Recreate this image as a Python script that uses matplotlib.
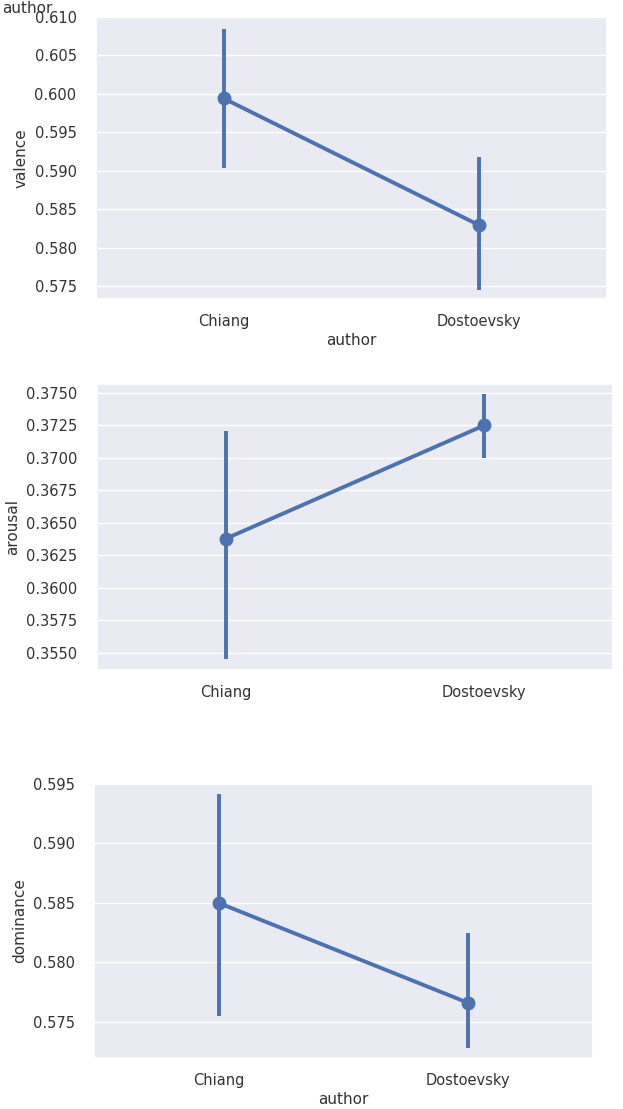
import matplotlib
matplotlib.use("Agg")
import matplotlib.pyplot as plt
import seaborn as sns

sns.set_theme(style="darkgrid")
plt.rcParams['font.family'] = ['DejaVu Sans']

authors = ["Chiang", "Dostoevsky"]

valence_mean = [0.5994, 0.5829]
valence_lo = [0.5903, 0.5745]
valence_hi = [0.6084, 0.5918]

arousal_mean = [0.3638, 0.3725]
arousal_lo = [0.3545, 0.3700]
arousal_hi = [0.3721, 0.3749]

dominance_mean = [0.5850, 0.5766]
dominance_lo = [0.5755, 0.5728]
dominance_hi = [0.5942, 0.5825]

valence_ticks = [0.575, 0.580, 0.585, 0.590, 0.595, 0.600, 0.605, 0.610]
arousal_ticks = [0.3550, 0.3575, 0.3600, 0.3625, 0.3650, 0.3675, 0.3700, 0.3725, 0.3750]
dominance_ticks = [0.575, 0.580, 0.585, 0.590, 0.595]

W, H = 623, 1109
fig = plt.figure(figsize=(W / 100, H / 100), dpi=100)

def add_ax(l, t, r, b):
    return fig.add_axes([l / W, 1 - b / H, (r - l) / W, (b - t) / H])

color = "#4c72b0"

def draw(ax, mean, lo, hi, ticks, fmt, ylim, ylabel, xlabel):
    ax.plot(authors, mean, color=color, lw=2.8, marker="o", ms=9, zorder=3)
    ax.vlines(authors, lo, hi, color=color, lw=2.8, zorder=3)
    ax.set_xlim(-0.5, 1.5)
    ax.set_ylim(*ylim)
    ax.set_yticks(ticks)
    ax.set_yticklabels([fmt.format(t) for t in ticks])
    ax.tick_params(axis="both", labelsize=10.5, colors="#333333")
    ax.tick_params(axis="y", pad=8)
    ax.tick_params(axis="x", pad=5)
    ax.set_ylabel(ylabel, fontsize=11, color="#333333")
    ax.set_xlabel(xlabel, fontsize=11, color="#333333", labelpad=3)
    ax.grid(axis="x", visible=False)

ax1 = add_ax(96, 17, 607, 299)
draw(ax1, valence_mean, valence_lo, valence_hi, valence_ticks, "{:.3f}",
     (0.5733, 0.6100), "valence", "author")

ax2 = add_ax(97, 384, 613, 670)
draw(ax2, arousal_mean, arousal_lo, arousal_hi, arousal_ticks, "{:.4f}",
     (0.35369, 0.37569), "arousal", "")

ax3 = add_ax(94, 784, 593, 1058)
draw(ax3, dominance_mean, dominance_lo, dominance_hi, dominance_ticks, "{:.3f}",
     (0.57197, 0.5950), "dominance", "author")

fig.text(2 / W, 1 - 1 / H, "author", fontsize=11, color="#333333", va="top", ha="left")

fig.savefig("out.png", dpi=100)
